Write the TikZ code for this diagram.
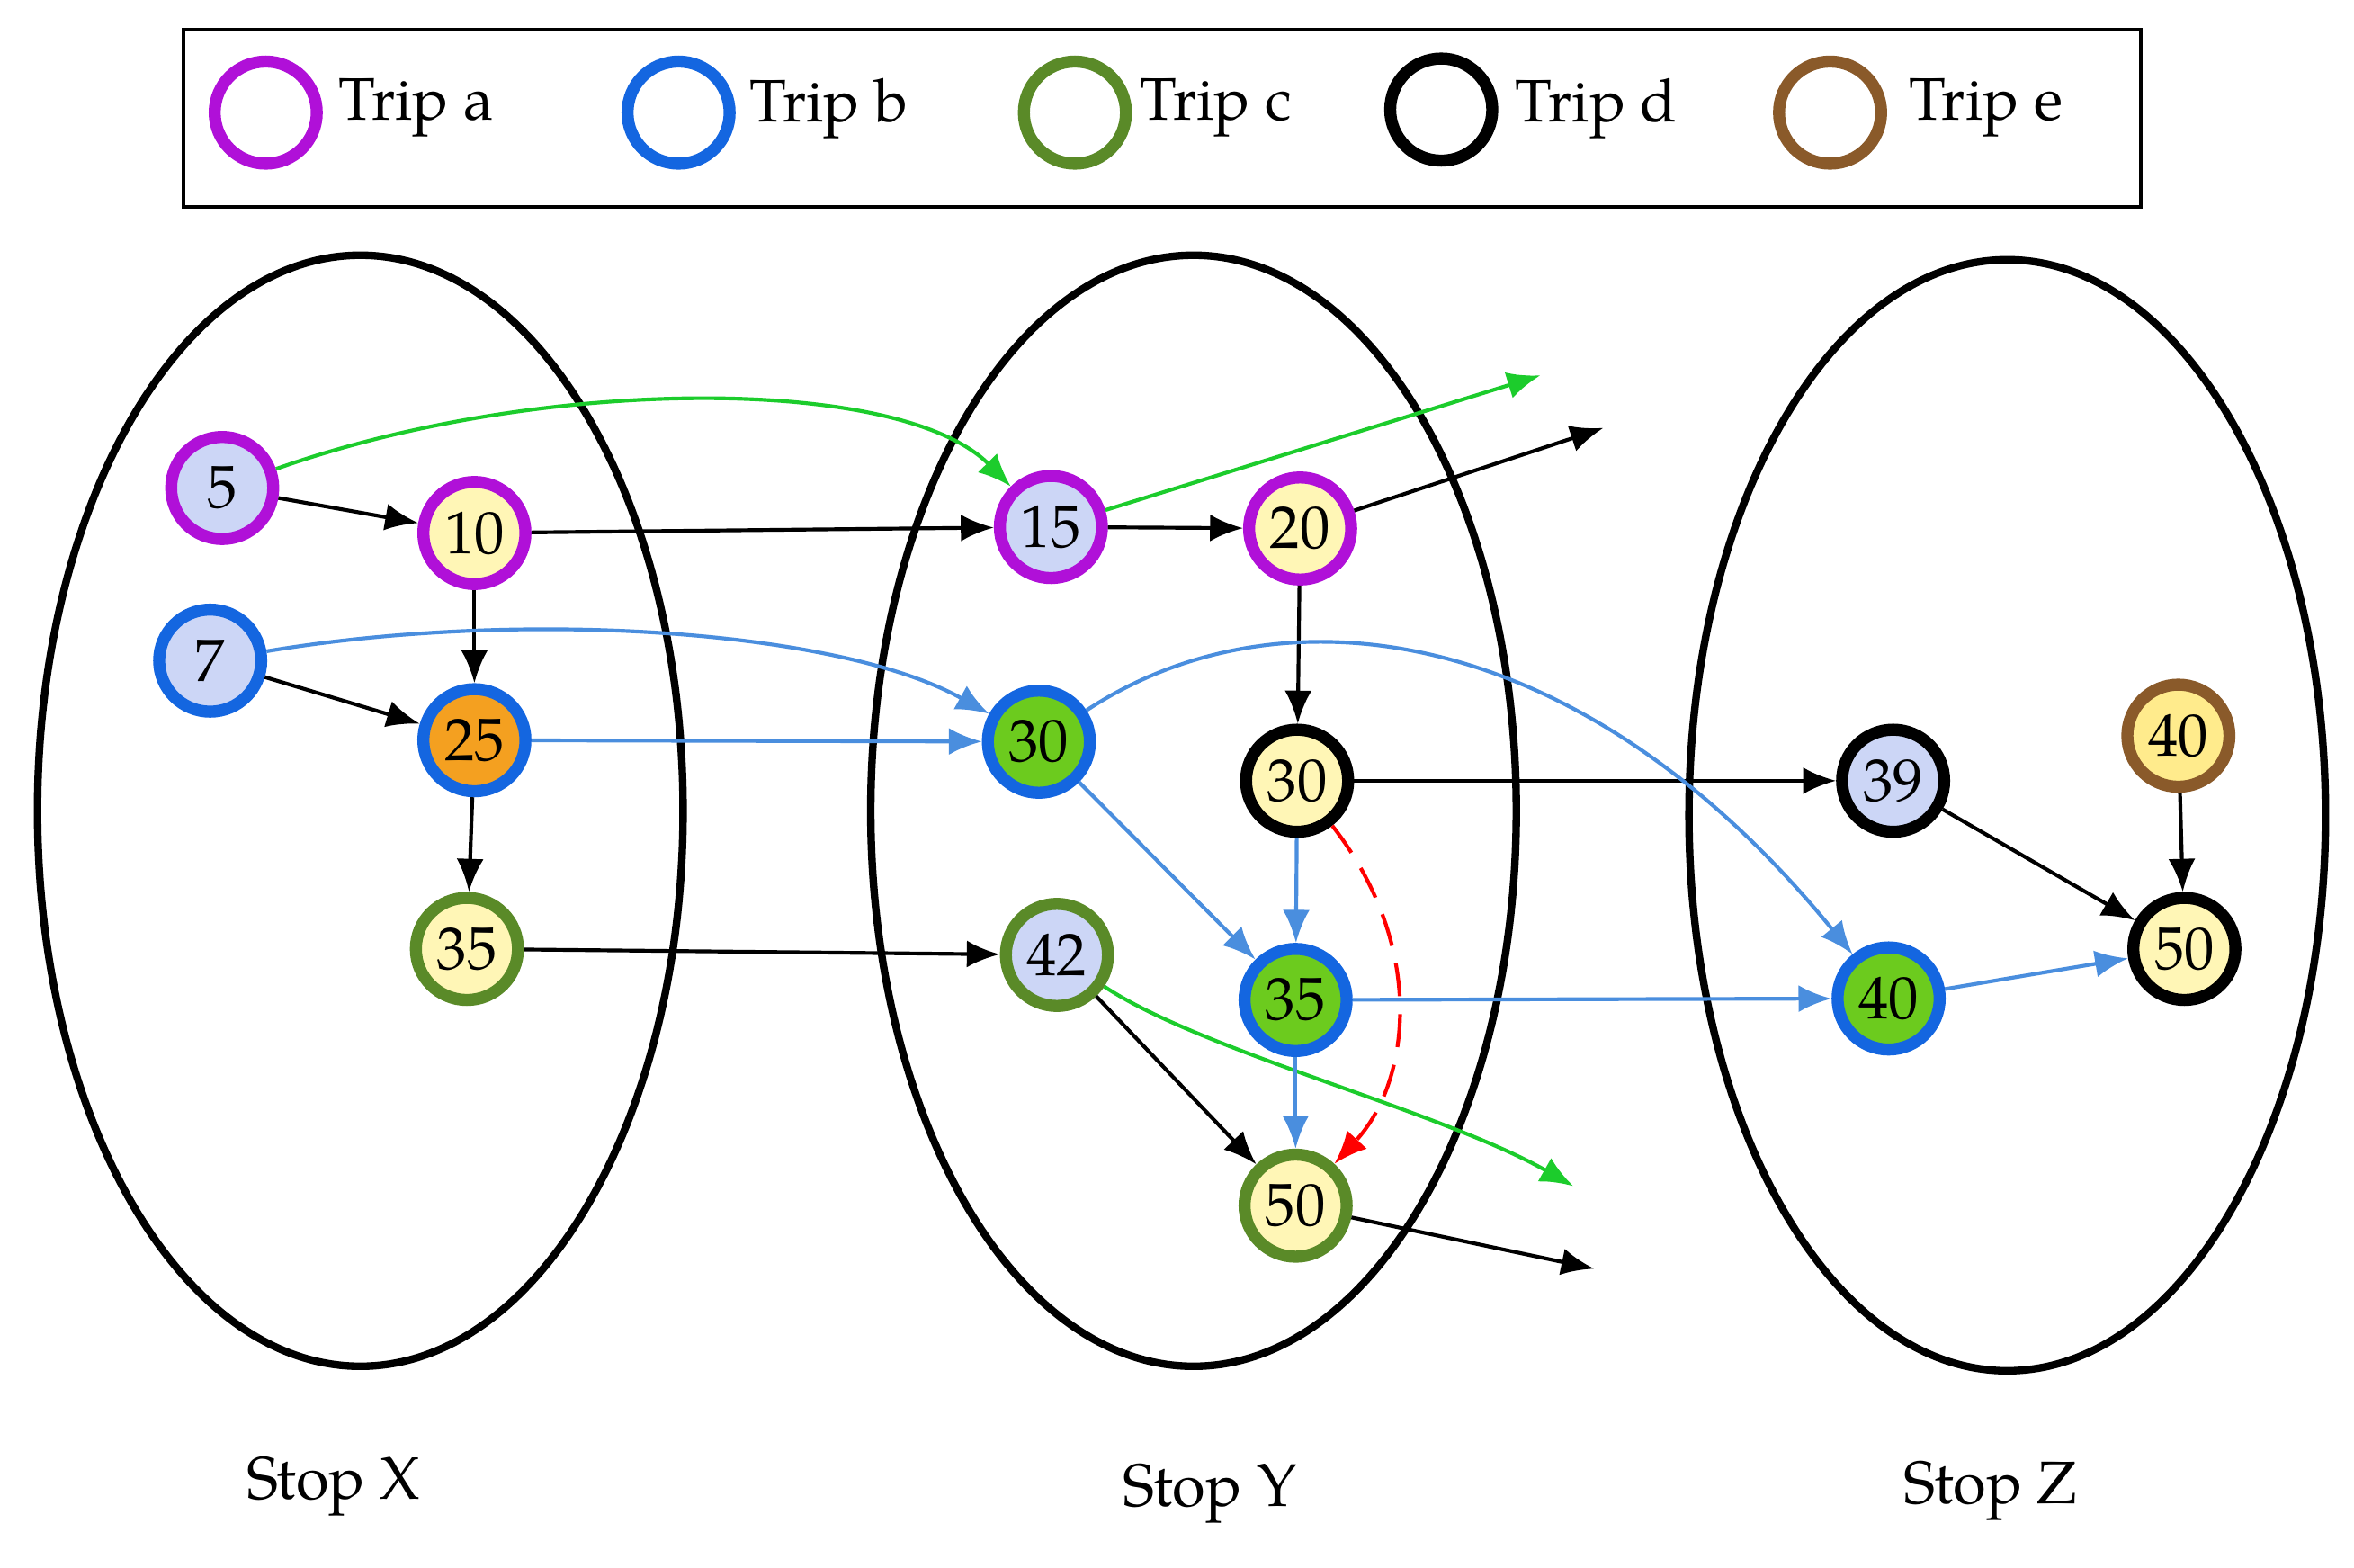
\documentclass[tikz,border=0pt]{standalone}
\usepackage{fontspec}
\setmainfont{TeX Gyre Pagella}[Scale=1]
\usetikzlibrary{arrows.meta}
\definecolor{cpur}{HTML}{B010D8}
\definecolor{cblu}{HTML}{1466E0}
\definecolor{colv}{HTML}{5A8A28}
\definecolor{cbrn}{HTML}{8A5A2A}
\definecolor{flb}{HTML}{CCD6F6}
\definecolor{fye}{HTML}{FFF6B6}
\definecolor{fye2}{HTML}{FFEB8C}
\definecolor{for}{HTML}{F4A020}
\definecolor{fgr}{HTML}{6CCB1E}
\definecolor{egr}{HTML}{1CCC2C}
\definecolor{ebl}{HTML}{4A8EDE}
\begin{document}
\begin{tikzpicture}[x=1pt,y=-1pt,
  every node/.style={font=\fontsize{40}{44}\selectfont},
  st/.style={circle,line width=8pt,minimum size=68pt,inner sep=0pt},
  ell/.style={line width=5pt},
  e/.style={line width=2.5pt,-{Latex[length=22pt,width=18pt]}},
  eg/.style={e,egr},
  eb/.style={e,ebl}]
\useasboundingbox (0,0) rectangle (1568,1044);
% legend
\draw[line width=2.5pt] (122,20) rectangle (1426,138);
\node[st,draw=cpur] (la) at (177,75) {};
\node[anchor=west] (lta) at (222,72) {Trip a};
\node[st,draw=cblu] (lb) at (452,75) {};
\node[anchor=west] (ltb) at (496,72) {Trip b};
\node[st,draw=colv] (lc) at (716,75) {};
\node[anchor=west] (ltc) at (756,72) {Trip c};
\node[st,draw=black] (ld) at (960,73) {};
\node[anchor=west] (ltd) at (1006,72) {Trip d};
\node[st,draw=cbrn] (le) at (1219,75) {};
\node[anchor=west] (lte) at (1268,72) {Trip e};
% ellipses
\draw[ell] (240,540) ellipse [x radius=215, y radius=370];
\draw[ell] (795,540) ellipse [x radius=215, y radius=370];
\draw[ell] (1337,543) ellipse [x radius=212, y radius=370];
\node (sx) at (222,990) {Stop X};
\node (sy) at (806,995) {Stop Y};
\node (sz) at (1326,993) {Stop Z};
% stations
\node[st,draw=cpur,fill=flb] (x5) at (148,325) {5};
\node[st,draw=cpur,fill=fye] (x10) at (316,355) {10};
\node[st,draw=cblu,fill=flb] (x7) at (140,440) {7};
\node[st,draw=cblu,fill=for] (x25) at (316,493) {25};
\node[st,draw=colv,fill=fye] (x35) at (311,632) {35};
\node[st,draw=cpur,fill=flb] (y15) at (700,351) {15};
\node[st,draw=cpur,fill=fye] (y20) at (866,352) {20};
\node[st,draw=cblu,fill=fgr] (y30g) at (692,494) {30};
\node[st,draw=black,fill=fye] (y30d) at (864,520) {30};
\node[st,draw=colv,fill=flb] (y42) at (704,636) {42};
\node[st,draw=cblu,fill=fgr] (y35) at (863,666) {35};
\node[st,draw=colv,fill=fye] (y50) at (863,803) {50};
\node[st,draw=black,fill=flb] (z39) at (1261,520) {39};
\node[st,draw=cbrn,fill=fye2] (z40e) at (1451,490) {40};
\node[st,draw=cblu,fill=fgr] (z40b) at (1258,665) {40};
\node[st,draw=black,fill=fye] (z50) at (1455,632) {50};
\coordinate (g1) at (1026,250);
\coordinate (k1) at (1068,285);
\coordinate (g2) at (1048,790);
\coordinate (k2) at (1062,845);
% green
\draw[eg] (x5) .. controls (360,250) and (600,250) .. (y15);
\draw[eg] (y15) -- (g1);
\draw[eg] (y42) .. controls (800,700) and (960,740) .. (g2);
% black
\draw[e] (x5) -- (x10);
\draw[e] (x10) -- (y15);
\draw[e] (y15) -- (y20);
\draw[e] (y20) -- (k1);
\draw[e] (x10) -- (x25);
\draw[e] (x7) -- (x25);
\draw[e] (x25) -- (x35);
\draw[e] (x35) -- (y42);
\draw[e] (y20) -- (y30d);
\draw[e] (y30d) -- (z39);
\draw[e] (y42) -- (y50);
\draw[e] (y50) -- (k2);
\draw[e] (z39) -- (z50);
\draw[e] (z40e) -- (z50);
% blue
\draw[eb] (x7) .. controls (350,405) and (560,420) .. (y30g);
\draw[eb] (x25) -- (y30g);
\draw[eb] (y30g) -- (y35);
\draw[eb] (y30g) .. controls (850,390) and (1050,410) .. (z40b);
\draw[eb] (y30d) -- (y35);
\draw[eb] (y35) -- (y50);
\draw[eb] (y35) -- (z40b);
\draw[eb] (z40b) -- (z50);
% red dashed
\draw[line width=2.5pt,red,dash pattern=on 22pt off 12pt,-{Latex[length=22pt,width=18pt]}] (y30d) .. controls (950,630) and (940,720) .. (y50);
\end{tikzpicture}
\end{document}
